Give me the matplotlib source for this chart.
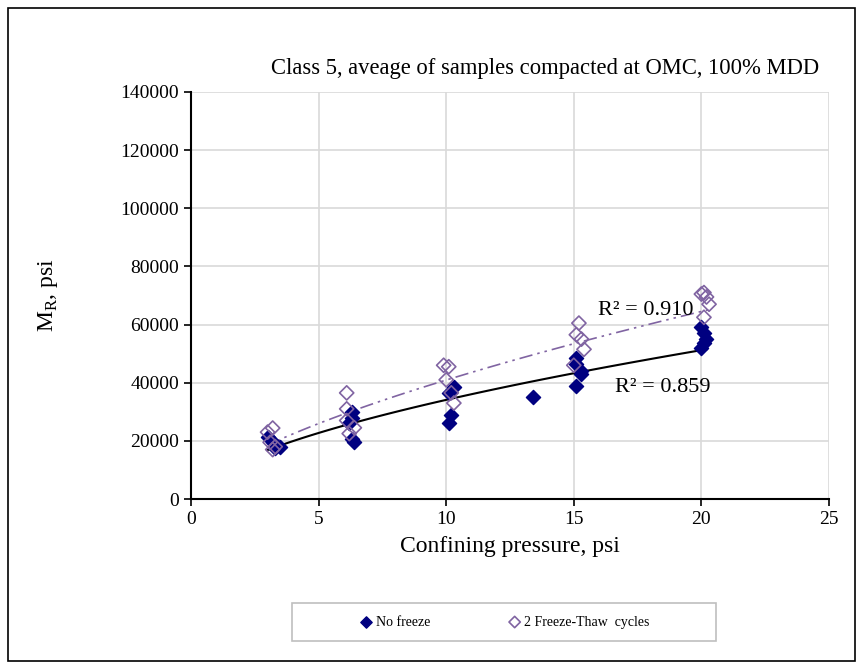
import matplotlib.pyplot as plt
import numpy as np
from matplotlib.patches import Rectangle

plt.rcParams['font.family'] = ['Liberation Serif', 'DejaVu Serif']
plt.rcParams['mathtext.fontset'] = 'custom'
plt.rcParams['mathtext.rm'] = 'Liberation Serif'

# no freeze samples
x_nf = [3.0, 3.2, 3.3, 3.5, 6.3, 6.3, 6.2, 6.3, 6.4,
        10.1, 10.3, 10.2, 10.1, 13.4,
        15.1, 15.1, 15.3, 15.3, 15.1,
        20.0, 20.1, 20.2, 20.1, 20.0]
y_nf = [21500, 19500, 17500, 18000, 30000, 28000, 26000, 20500, 19500,
        36500, 38500, 29000, 26000, 35000,
        48500, 46500, 44000, 43000, 39000,
        59000, 57000, 55000, 53500, 52000]

# after 2 freeze-thaw cycles
x_ft = [3.0, 3.2, 3.1, 3.2, 3.3,
        6.1, 6.1, 6.1, 6.4, 6.2,
        9.9, 10.1, 10.0, 10.2, 10.3,
        15.2, 15.1, 15.3, 15.4, 15.0,
        20.0, 20.1, 20.2, 20.3, 20.1]
y_ft = [23000, 24400, 19500, 17000, 18000,
        36500, 31000, 27000, 24500, 22500,
        46000, 45500, 41000, 36500, 33000,
        60500, 56500, 55000, 51500, 46000,
        70500, 71000, 69500, 67000, 62500]

r2_nf = 0.859
r2_ft = 0.910

def power_fit(x, y):
    # y = a * x^b, fitted in log-log space like a spreadsheet power trendline
    b, lna = np.polyfit(np.log(x), np.log(y), 1)
    return np.exp(lna), b

fig = plt.figure(figsize=(8.62, 6.69), dpi=100)
ax = fig.add_axes([0.2216, 0.2541, 0.7401, 0.6084])

ax.scatter(x_nf, y_nf, marker='D', s=52, color='#000080', zorder=3,
           label='No freeze')
ax.scatter(x_ft, y_ft, marker='D', s=52, facecolors='none',
           edgecolors='#8064A2', linewidths=1.2, zorder=3,
           label='2 Freeze-Thaw  cycles')

a1, b1 = power_fit(x_nf, y_nf)
xs = np.linspace(min(x_nf), max(x_nf), 100)
ax.plot(xs, a1 * xs ** b1, color='black', lw=1.5, zorder=2)

a2, b2 = power_fit(x_ft, y_ft)
xs2 = np.linspace(min(x_ft), max(x_ft), 100)
ax.plot(xs2, a2 * xs2 ** b2, color='#8064A2', lw=1.2, zorder=2,
        dashes=[8, 3, 1.5, 3, 1.5, 3])

ax.text(17.8, 64700, f'R² = {r2_ft:.3f}', fontsize=16, ha='center', va='center')
ax.text(18.5, 38500, f'R² = {r2_nf:.3f}', fontsize=16, ha='center', va='center')

ax.set_xlim(0, 25)
ax.set_ylim(0, 140000)
ax.set_xticks(np.arange(0, 26, 5))
ax.set_yticks(np.arange(0, 140001, 20000))
ax.grid(True, color='#d9d9d9', lw=1.2)
ax.set_axisbelow(True)
for s in ['top', 'right']:
    ax.spines[s].set_visible(False)
for s in ['left', 'bottom']:
    ax.spines[s].set_linewidth(1.5)
ax.tick_params(labelsize=14, width=1.2, length=5)

ax.set_title('Class 5, aveage of samples compacted at OMC, 100% MDD',
             fontsize=16.3, pad=13, x=0.555)
ax.set_xlabel('Confining pressure, psi', fontsize=17, labelpad=6)
ax.set_ylabel(r'M$_\mathregular{R}$, psi', fontsize=17)
ax.yaxis.set_label_coords(-0.205, 0.5)

# legend box drawn separately so its width can be set freely
leg = ax.legend(loc='center left', bbox_to_anchor=(0.4083, 0.070),
                bbox_transform=fig.transFigure, ncol=2, fontsize=10,
                frameon=False, handlelength=1.0, handletextpad=0.2,
                columnspacing=5.6, borderpad=0, markerscale=0.8)
fig.patches.append(Rectangle((0.3387, 0.0419), 0.4919, 0.0568,
                             transform=fig.transFigure, fill=False,
                             edgecolor='#bfbfbf', lw=1.2))

fig.patches.append(Rectangle((0.0093, 0.012), 0.9826, 0.976,
                             transform=fig.transFigure, fill=False,
                             edgecolor='black', lw=1.2))

plt.savefig('out.png', dpi=100)
